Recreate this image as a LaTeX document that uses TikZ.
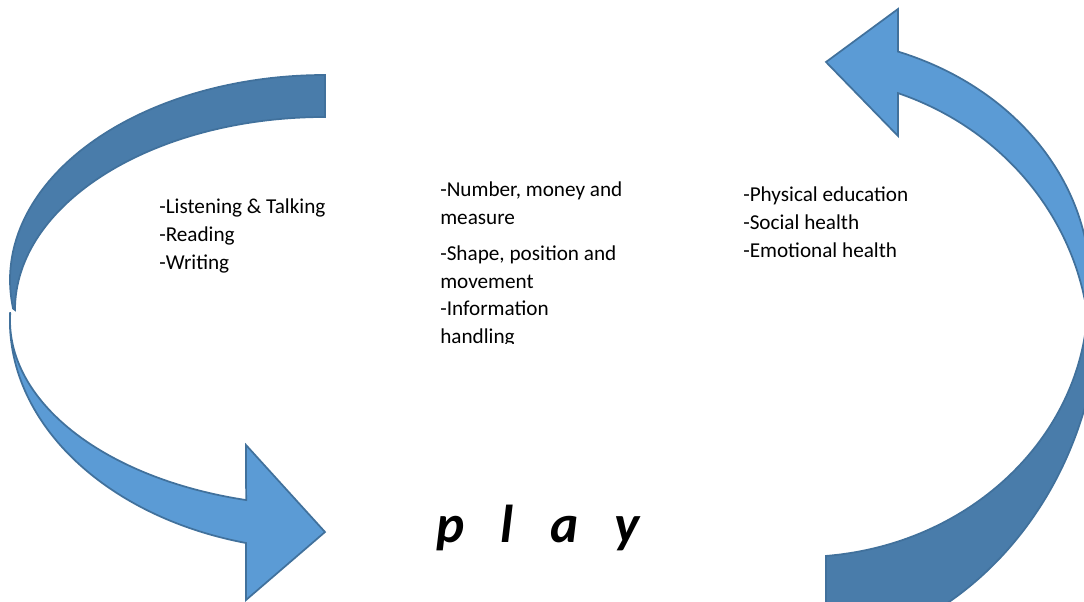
\documentclass[tikz,border=0pt]{standalone}
\usepackage{fontspec}
\setmainfont{Carlito}
\usetikzlibrary{positioning}
\definecolor{frontblue}{HTML}{5B9BD5}
\definecolor{backblue}{HTML}{497CAA}
\definecolor{rimblue}{HTML}{41719C}
\tikzset{
	backface/.style={fill=backblue, draw=rimblue, line width=1.3pt},
	frontface/.style={fill=frontblue, draw=rimblue, line width=1.3pt},
	topic/.style={anchor=north west, inner sep=0, align=left, font=\fontsize{15.9}{20.8}\selectfont},
	playword/.style={anchor=base west, inner sep=0, font=\fontsize{40}{48}\selectfont\bfseries\itshape}
}
\begin{document}
\begin{tikzpicture}[x=0.75pt, y=-0.75pt]
		\useasboundingbox (0,0) rectangle (1084,602);
		\clip (0,0) rectangle (1084,602);

		% left arrow: back face, then front face with head
		\draw [backface] (325,75) arc[start angle=-90, end angle=-188, x radius=315, y radius=205]
			-- (15,310) arc[start angle=180, end angle=270, x radius=310, y radius=193] -- cycle;
		\draw [frontface] (10.2,313.5) arc[start angle=182, end angle=104.5, x radius=315, y radius=186]
			-- (246,445) -- (325,532) -- (246,600) -- (246,543)
			arc[start angle=104.5, end angle=182, x radius=315, y radius=230] -- cycle;

		% right arrow: back face, then front face with head
		\draw [backface] (1088,297) arc[start angle=0, end angle=84.8, x radius=288, y radius=260]
			-- (826,652) arc[start angle=81.7, end angle=-5, x radius=320, y radius=356] -- cycle;
		\draw [frontface] (898,51.6) arc[start angle=-70.25, end angle=5, x radius=290, y radius=247]
			-- (1084.7,299.5) arc[start angle=-11, end angle=-70.25, x radius=290, y radius=275]
			-- (898,136) -- (826,62) -- (898,9) -- cycle;

		\node [topic] (language) at (159,199) {-Listening \& Talking\\-Reading\\-Writing};
		\begin{scope}
			\clip (430,170) rectangle (660,343);
			\node [topic] (maths) at (440,182) {-Number, money and\\measure\\[6pt]-Shape, position and\\movement\\-Information\\handling};
		\end{scope}
		\node [topic] (health) at (743,187) {-Physical education\\-Social health\\-Emotional health};

		\node [playword] (play) at (436,542) {p\hspace{0.68em}l\hspace{0.68em}a\hspace{0.68em}y};
\end{tikzpicture}
\end{document}
